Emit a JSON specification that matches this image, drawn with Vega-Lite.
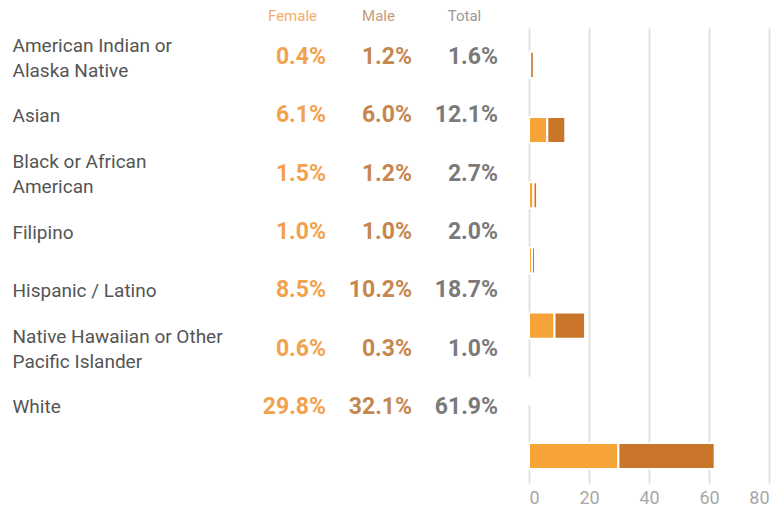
{
  "$schema": "https://vega.github.io/schema/vega-lite/v6.json",
  "padding": {"left": 12, "top": 8, "right": 4, "bottom": 4},
  "background": "white",
  "bounds": "flush",
  "spacing": 31,
  "config": {"view": {"stroke": null}, "font": "Roboto"},
  "resolve": {"scale": {"x": "independent", "y": "independent", "color": "independent"}},
  "datasets": {
    "table": [
      {"race": "American Indian or Alaska Native", "sex": "Female", "pct": 0.4},
      {"race": "American Indian or Alaska Native", "sex": "Male", "pct": 1.2},
      {"race": "American Indian or Alaska Native", "sex": "Total", "pct": 1.6},
      {"race": "Asian", "sex": "Female", "pct": 6.1},
      {"race": "Asian", "sex": "Male", "pct": 6.0},
      {"race": "Asian", "sex": "Total", "pct": 12.1},
      {"race": "Black or African American", "sex": "Female", "pct": 1.5},
      {"race": "Black or African American", "sex": "Male", "pct": 1.2},
      {"race": "Black or African American", "sex": "Total", "pct": 2.7},
      {"race": "Filipino", "sex": "Female", "pct": 1.0},
      {"race": "Filipino", "sex": "Male", "pct": 1.0},
      {"race": "Filipino", "sex": "Total", "pct": 2.0},
      {"race": "Hispanic / Latino", "sex": "Female", "pct": 8.5},
      {"race": "Hispanic / Latino", "sex": "Male", "pct": 10.2},
      {"race": "Hispanic / Latino", "sex": "Total", "pct": 18.7},
      {"race": "Native Hawaiian or Other Pacific Islander", "sex": "Female", "pct": 0.6},
      {"race": "Native Hawaiian or Other Pacific Islander", "sex": "Male", "pct": 0.3},
      {"race": "Native Hawaiian or Other Pacific Islander", "sex": "Total", "pct": 1.0},
      {"race": "White", "sex": "Female", "pct": 29.8},
      {"race": "White", "sex": "Male", "pct": 32.1},
      {"race": "White", "sex": "Total", "pct": 61.9}
    ]
  },
  "hconcat": [
    {
      "width": 258,
      "height": 408,
      "data": {"name": "table"},
      "transform": [{"calculate": "format(datum.pct, '.1f') + '%'", "as": "label"}],
      "mark": {"type": "text", "align": "right", "baseline": "middle", "fontSize": 23, "fontWeight": "bold", "dx": 43},
      "encoding": {
        "y": {
          "field": "race", "type": "nominal",
          "sort": ["American Indian or Alaska Native", "Asian", "Black or African American", "Filipino", "Hispanic / Latino", "Native Hawaiian or Other Pacific Islander", "White"],
          "scale": {"paddingInner": 0, "paddingOuter": 0},
          "axis": {
            "title": null, "domain": false, "ticks": false,
            "labelAlign": "left", "labelPadding": 228, "labelLimit": 0,
            "labelFontSize": 19, "labelColor": "#555555", "labelLineHeight": 25,
            "labelOffset": {
              "condition": {"test": "indexof(['American Indian or Alaska Native', 'Black or African American', 'Native Hawaiian or Other Pacific Islander'], datum.value) >= 0", "value": -12},
              "value": 0
            },
            "labelExpr": "datum.value === 'American Indian or Alaska Native' ? ['American Indian or', 'Alaska Native'] : datum.value === 'Black or African American' ? ['Black or African', 'American'] : datum.value === 'Native Hawaiian or Other Pacific Islander' ? ['Native Hawaiian or Other', 'Pacific Islander'] : datum.value"
          }
        },
        "x": {
          "field": "sex", "type": "nominal", "sort": ["Female", "Male", "Total"],
          "scale": {"paddingInner": 0, "paddingOuter": 0},
          "axis": {
            "orient": "top", "title": null, "domain": false, "ticks": false,
            "labelAngle": 0, "labelFontSize": 15, "labelPadding": 5, "labelOffset": 9,
            "labelColor": {
              "condition": [
                {"test": "datum.value === 'Female'", "value": "#F4AC6E"},
                {"test": "datum.value === 'Male'", "value": "#C99A7C"}
              ],
              "value": "#999999"
            }
          }
        },
        "text": {"field": "label"},
        "color": {
          "field": "sex", "type": "nominal",
          "scale": {"domain": ["Female", "Male", "Total"], "range": ["#F2A24E", "#C6874F", "#7A7A7A"]},
          "legend": null
        }
      }
    },
    {
      "width": 240,
      "height": 455,
      "data": {"name": "table"},
      "transform": [{"filter": "datum.sex !== 'Total'"}],
      "mark": {"type": "bar", "stroke": "white", "strokeWidth": 2},
      "encoding": {
        "y": {
          "field": "race", "type": "nominal",
          "sort": ["American Indian or Alaska Native", "Asian", "Black or African American", "Filipino", "Hispanic / Latino", "Native Hawaiian or Other Pacific Islander", "White"],
          "scale": {"paddingInner": 0.6, "paddingOuter": 0.29, "align": 0.63},
          "axis": null
        },
        "x": {
          "field": "pct", "type": "quantitative", "stack": "zero",
          "scale": {"domain": [0, 80], "nice": false},
          "axis": {
            "title": null, "domain": false, "ticks": false, "values": [0, 20, 40, 60, 80],
            "grid": true, "gridColor": "#E2E2E2", "gridWidth": 2,
            "labelColor": "#A8A8A8", "labelFontSize": 18, "labelPadding": 6
          }
        },
        "color": {
          "field": "sex", "type": "nominal",
          "scale": {"domain": ["Female", "Male"], "range": ["#F6A43A", "#C9752A"]},
          "legend": null
        },
        "order": {"field": "sex", "sort": "ascending"}
      }
    }
  ]
}
